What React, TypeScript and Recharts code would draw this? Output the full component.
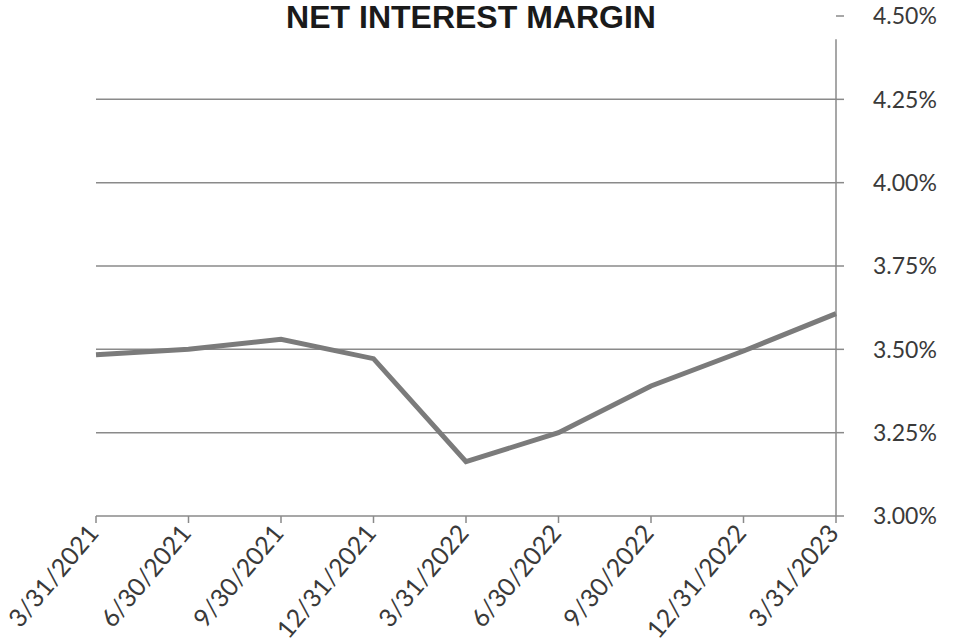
import { CartesianGrid, Line, LineChart, ReferenceLine, XAxis, YAxis } from 'recharts'

const quarters = [
  '3/31/2021',
  '6/30/2021',
  '9/30/2021',
  '12/31/2021',
  '3/31/2022',
  '6/30/2022',
  '9/30/2022',
  '12/31/2022',
  '3/31/2023',
]

const nimValues = [3.484, 3.5, 3.53, 3.472, 3.163, 3.25, 3.39, 3.495, 3.607]

const yTicks = [3.0, 3.25, 3.5, 3.75, 4.0, 4.25, 4.5]

const chartData = quarters.map((quarter, i) => ({ quarter, nim: nimValues[i] }))

const lineGray = '#7b7b7b'
const gridGray = '#8a8a8a'
const labelColor = '#3a3a3a'
const tickFont = 'Lato, "Open Sans", sans-serif'

function XTick({ x, y, payload }: any) {
  return (
    <text
      transform={`translate(${x + 4},${y}) rotate(-50)`}
      textAnchor="end"
      fontSize={25}
      fontFamily={tickFont}
      fill={labelColor}
    >
      {payload.value}
    </text>
  )
}

function YTick({ x, y, payload }: any) {
  return (
    <text
      x={x + 11}
      y={y}
      dy="0.36em"
      textAnchor="start"
      fontSize={23}
      fontFamily={tickFont}
      fill={labelColor}
    >
      {`${Number(payload.value).toFixed(2)}%`}
    </text>
  )
}

export default function App() {
  const gridTicks = yTicks.filter(t => t > 3 && t < 4.5)
  const lastQuarter = quarters[quarters.length - 1]

  return (
    <div style={{ position: 'absolute', left: 0, top: 0, width: 956, height: 643, background: '#fff' }}>
      <div
        style={{
          position: 'absolute',
          left: 0,
          top: 1,
          width: 942,
          textAlign: 'center',
          fontFamily: '"Liberation Sans", Arial, sans-serif',
          fontWeight: 'bold',
          fontSize: 32,
          lineHeight: '32px',
          color: '#1a1a1a',
          zIndex: 1,
        }}
      >
        NET INTEREST MARGIN
      </div>
      <LineChart
        width={956}
        height={643}
        data={chartData}
        margin={{ top: 16, right: 0, bottom: 0, left: 96 }}
      >
        <CartesianGrid horizontal={false} vertical={false} />
        {gridTicks.map(t => (
          <ReferenceLine key={t} y={t} stroke={gridGray} strokeWidth={1.5} />
        ))}
        <XAxis
          dataKey="quarter"
          height={127}
          interval={0}
          tick={<XTick />}
          tickSize={7}
          tickMargin={11}
          axisLine={{ stroke: gridGray, strokeWidth: 1.5 }}
          tickLine={{ stroke: gridGray, strokeWidth: 1.5 }}
        />
        <YAxis
          orientation="right"
          width={120}
          domain={[3, 4.5]}
          ticks={yTicks}
          interval={0}
          tick={<YTick />}
          tickSize={8}
          tickMargin={18}
          axisLine={false}
          tickLine={{ stroke: gridGray, strokeWidth: 1.5 }}
        />
        <ReferenceLine
          segment={[
            { x: lastQuarter, y: 3 },
            { x: lastQuarter, y: 4.43 },
          ]}
          stroke={gridGray}
          strokeWidth={1.5}
        />
        <Line
          type="linear"
          dataKey="nim"
          stroke={lineGray}
          strokeWidth={5}
          dot={false}
          activeDot={false}
          isAnimationActive={false}
        />
      </LineChart>
    </div>
  )
}
